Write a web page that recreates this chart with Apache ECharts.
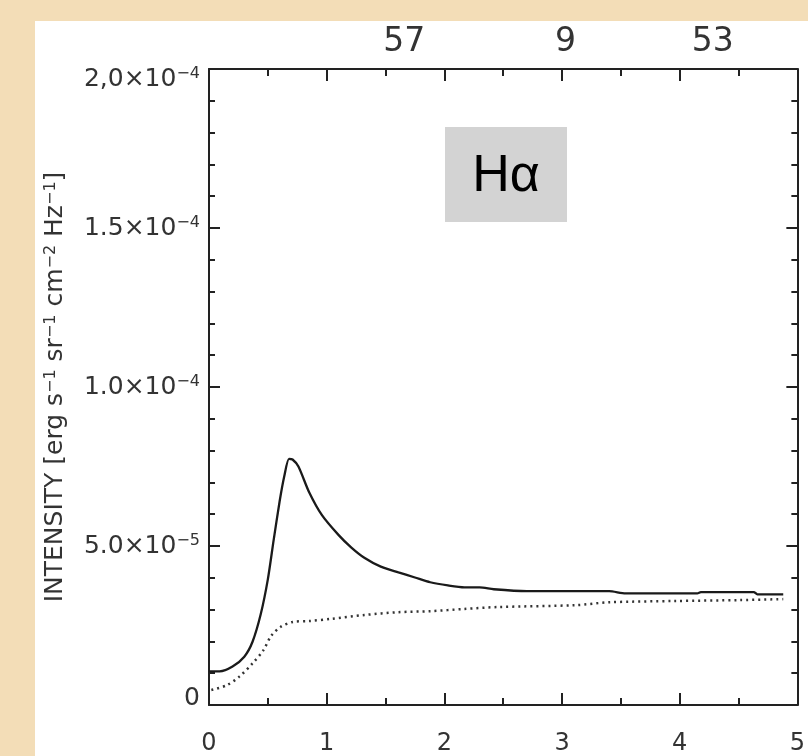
<!DOCTYPE html>
<html><head><meta charset="utf-8">
<script src="https://cdn.jsdelivr.net/npm/echarts@6/dist/echarts.min.js"></script>
<style>html,body{margin:0;padding:0;background:#f3ddb7}#c{width:808px;height:756px}</style>
</head><body><div id="c"></div>
<script>
// Solid curve (total intensity), units of 1e-5
const solidX = [0.0,0.09,0.20,0.30,0.37,0.44,0.50,0.55,0.60,0.64,0.68,0.71,0.76,0.85,0.96,1.10,1.21,1.32,1.46,1.61,1.75,1.88,2.03,2.17,2.30,2.42,2.70,3.40,3.54,4.15,4.18,4.63,4.66,4.88];
const solidY = [1.06,1.06,1.21,1.52,1.99,2.86,3.95,5.2,6.4,7.2,7.74,7.72,7.5,6.7,5.97,5.35,4.95,4.63,4.35,4.17,4.01,3.86,3.76,3.70,3.70,3.64,3.58,3.58,3.51,3.51,3.55,3.55,3.48,3.48];
// Dotted curve, units of 1e-5
const dotX = [0.02,0.15,0.26,0.37,0.46,0.53,0.61,0.71,0.85,1.04,1.32,1.61,1.88,2.17,2.45,3.12,3.40,3.96,4.52,4.88];
const dotY = [0.47,0.62,0.90,1.31,1.71,2.18,2.46,2.61,2.64,2.71,2.83,2.92,2.95,3.02,3.08,3.14,3.23,3.27,3.30,3.33];
const yScale = 1e-5;
// Tick labels
const xTickLabels = ['0','1','2','3','4','5'];
const yTickMant = ['0','5.0×10','1.0×10','1.5×10','2,0×10'];
const yTickExp = ['','−5','−4','−4','−4'];
const topLabels = ['57','9','53'];
const topLabelPos = [1.66,3.03,4.28];
const yName = 'INTENSITY [erg s{s|−1} sr{s|−1} cm{s|−2} Hz{s|−1}]';
const panelTitle = 'Hα';

const pair = (xs, ys) => xs.map((x,i)=>[x, ys[i]*yScale]);
const ink = '#222';
const txt = '#333';
const fam = 'DejaVu Sans';
function yLabel(v){
  const i = Math.round(v/5e-5);
  const m = yTickMant[i];
  if (m === undefined) return '';
  let s = yTickExp[i] ? m + '{s|' + yTickExp[i] + '}' : m;
  if (i === 0) s = s + '\n{up| }';          // first label sits just above the axis
  if (i === yTickMant.length - 1) s = '{dn| }\n' + s; // last label sits just below the top
  return s;
}
const chart = echarts.init(document.getElementById('c'), null, {renderer:'canvas'});
chart.setOption({
  backgroundColor: '#f3ddb7',
  animation: false,
  graphic: [
    {type:'rect', z:-10, shape:{x:35,y:21,width:773,height:735}, style:{fill:'#ffffff'}},
    {type:'rect', z:1, shape:{x:445,y:127,width:122,height:95}, style:{fill:'#d3d3d3'}},
    {type:'text', z:2, x:506, y:177, style:{text:panelTitle, font:'52px "Liberation Sans", Arial, sans-serif', fill:'#000', align:'center', verticalAlign:'middle'}}
  ],
  grid: {left:209, right:4, top:69, bottom:44, containLabel:false},
  xAxis: [
    {type:'value', min:0, max:5, interval:1, position:'bottom',
     axisLine:{show:true, onZero:false, lineStyle:{color:ink, width:2}},
     axisTick:{show:true, inside:true, length:12, lineStyle:{color:ink, width:2}},
     minorTick:{show:true, splitNumber:2, length:7, lineStyle:{color:ink, width:2}},
     splitLine:{show:false},
     axisLabel:{margin:27, fontSize:24, fontFamily:fam, color:txt, formatter:(v)=>xTickLabels[Math.round(v)] ?? ''}},
    {type:'value', min:0, max:5, interval:1, position:'top',
     axisLine:{show:true, onZero:false, lineStyle:{color:ink, width:2}},
     axisTick:{show:true, inside:true, length:12, lineStyle:{color:ink, width:2}},
     minorTick:{show:true, splitNumber:2, length:7, lineStyle:{color:ink, width:2}},
     splitLine:{show:false}, axisLabel:{show:false}},
    {type:'value', min:0, max:5, position:'top',
     axisLine:{show:false}, axisTick:{show:false}, splitLine:{show:false},
     axisLabel:{show:true, customValues:topLabelPos, margin:10, fontSize:33, fontFamily:fam, color:txt,
       formatter:(v)=>{const i=topLabelPos.findIndex(p=>Math.abs(p-v)<1e-6); return i>=0?topLabels[i]:'';}}}
  ],
  yAxis: [
    {type:'value', min:0, max:2e-4, interval:5e-5, position:'left',
     name: yName, nameLocation:'middle', nameGap:141, nameRotate:90,
     nameTextStyle:{fontSize:25, fontFamily:fam, color:txt, rich:{s:{fontSize:16, verticalAlign:'top', fontFamily:fam, color:txt}}},
     axisLine:{show:true, onZero:false, lineStyle:{color:ink, width:2}},
     axisTick:{show:true, inside:true, length:11, lineStyle:{color:ink, width:2}},
     minorTick:{show:true, splitNumber:5, length:6, lineStyle:{color:ink, width:2}},
     splitLine:{show:false},
     axisLabel:{margin:9, fontSize:25, lineHeight:26, fontFamily:fam, color:txt,
       rich:{s:{fontSize:16, verticalAlign:'top', fontFamily:fam, color:txt},
             up:{fontSize:2, lineHeight:14}, dn:{fontSize:2, lineHeight:20}},
       formatter:yLabel}},
    {type:'value', min:0, max:2e-4, interval:5e-5, position:'right',
     axisLine:{show:true, onZero:false, lineStyle:{color:ink, width:2}},
     axisTick:{show:true, inside:true, length:11, lineStyle:{color:ink, width:2}},
     minorTick:{show:true, splitNumber:5, length:6, lineStyle:{color:ink, width:2}},
     splitLine:{show:false}, axisLabel:{show:false}}
  ],
  series: [
    {type:'line', xAxisIndex:0, yAxisIndex:0, data:pair(solidX, solidY), smooth:0.25, showSymbol:false,
     lineStyle:{color:'#1a1a1a', width:2.3}},
    {type:'line', xAxisIndex:0, yAxisIndex:0, data:pair(dotX, dotY), smooth:0.3, showSymbol:false,
     lineStyle:{color:'#333', width:2.5, type:[2,4]}}
  ]
});
</script></body></html>
